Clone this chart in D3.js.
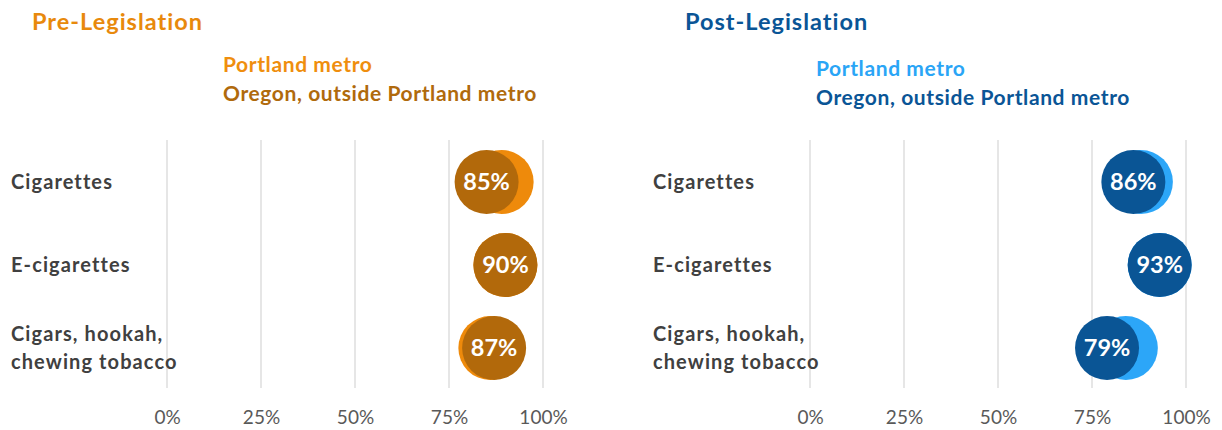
<!DOCTYPE html>
<html><head><meta charset="utf-8">
<script src="https://cdn.jsdelivr.net/npm/d3@7"></script>
<style>body{margin:0;background:#fff;} text{font-family:Lato,"Noto Sans",sans-serif;}</style>
</head><body><svg id="c" width="1222" height="430"></svg>
<script>
const categories = ["Cigarettes", "E-cigarettes", "Cigars, hookah,|chewing tobacco"];
const seriesNames = ["Portland metro", "Oregon, outside Portland metro"];
const panelTitles = ["Pre-Legislation", "Post-Legislation"];
const prePortland = [0.89, 0.90, 0.86];
const preOutside = [0.85, 0.90, 0.87];
const postPortland = [0.88, 0.93, 0.84];
const postOutside = [0.86, 0.93, 0.79];
const tickValues = [0, 0.25, 0.5, 0.75, 1];

const svg = d3.select("#c");
const panels = [
  {title: panelTitles[0], a: prePortland, b: preOutside, x0: 167, x1: 543, labelX: 11, titleX: 32, legX: 223,
   titleCol: "#E8890C", colA: "#EE8A0B", colB: "#B2690B", legA: "#EF8E0E", legB: "#B06A0C", legY: [72, 101]},
  {title: panelTitles[1], a: postPortland, b: postOutside, x0: 810, x1: 1186, labelX: 653, titleX: 685, legX: 816,
   titleCol: "#0A5596", colA: "#2CA6F8", colB: "#0A5595", legA: "#2AA5F6", legB: "#0A5596", legY: [76, 105]}
];
const y = d3.scalePoint().domain(categories).range([182, 348]);

panels.forEach(p => {
  const x = d3.scaleLinear().domain([0, 1]).range([p.x0, p.x1]);
  const g = svg.append("g");
  g.append("text").attr("x", p.titleX).attr("y", 30).attr("fill", p.titleCol)
    .attr("font-size", 23.5).attr("font-weight", 700).attr("letter-spacing", 1.0).text(p.title);
  g.selectAll(".leg").data(seriesNames).join("text")
    .attr("x", p.legX).attr("y", (d, i) => p.legY[i])
    .attr("fill", (d, i) => i ? p.legB : p.legA)
    .attr("font-size", 21).attr("font-weight", 700).attr("letter-spacing", 0.6).text(d => d);
  // gridlines
  g.selectAll(".grid").data(tickValues).join("line")
    .attr("x1", d => x(d)).attr("x2", d => x(d)).attr("y1", 140).attr("y2", 388)
    .attr("stroke", "#D9D9D9").attr("stroke-width", 1.3);
  // axis labels
  const ax = g.append("g").attr("transform", "translate(0,408)")
    .call(d3.axisBottom(x).tickValues(tickValues).tickFormat(d3.format(".0%")).tickSize(0).tickPadding(0));
  ax.select(".domain").remove();
  ax.selectAll("text").attr("font-size", 19).attr("fill", "#595959").attr("font-family", "Lato,sans-serif").attr("dy", "0.85em");
  // category labels
  categories.forEach(c => {
    const lines = c.split("|");
    const t = g.append("text").attr("x", p.labelX).attr("fill", "#404040")
      .attr("font-size", 20).attr("font-weight", 700).attr("letter-spacing", 1.1);
    lines.forEach((l, i) => {
      t.append("tspan").attr("x", p.labelX)
        .attr("y", y(c) + 7 + (i - (lines.length - 1) / 2) * 28).text(l);
    });
  });
  // circles
  g.selectAll(".ca").data(categories).join("circle")
    .attr("cx", (d, i) => x(p.a[i])).attr("cy", d => y(d)).attr("r", 32).attr("fill", p.colA);
  g.selectAll(".cb").data(categories).join("circle")
    .attr("cx", (d, i) => x(p.b[i])).attr("cy", d => y(d)).attr("r", 32).attr("fill", p.colB);
  g.selectAll(".lb").data(categories).join("text")
    .attr("x", (d, i) => x(p.b[i])).attr("y", d => y(d) + 8)
    .attr("text-anchor", "middle").attr("fill", "#fff").attr("font-size", 23.5).attr("font-weight", 700)
    .text((d, i) => d3.format(".0%")(p.b[i]));
});
</script></body></html>
